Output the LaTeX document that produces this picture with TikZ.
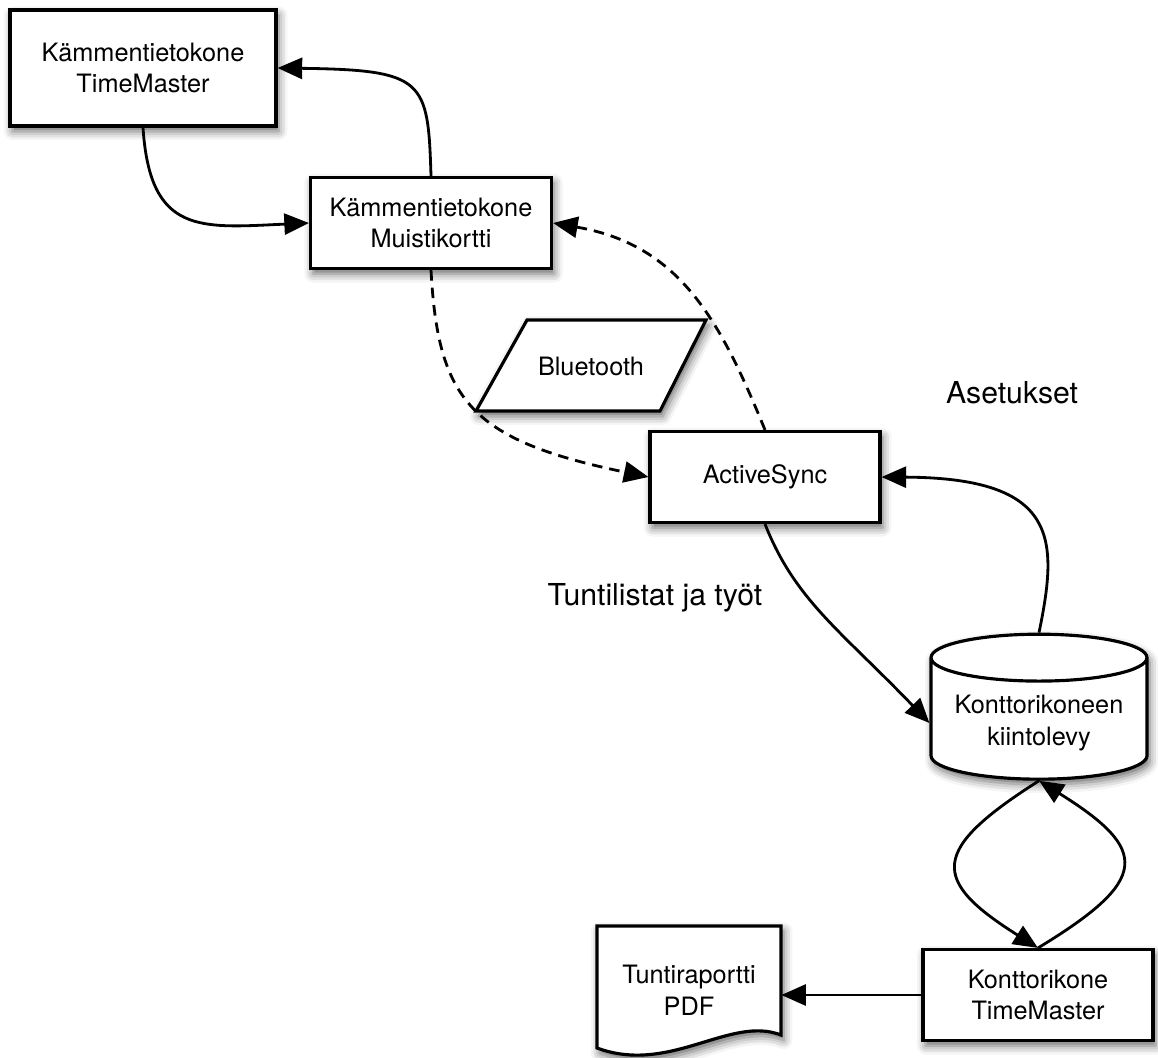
\documentclass[tikz,border=0pt]{standalone}
\usepackage{fontspec}
\setmainfont{TeX Gyre Heros}
\usetikzlibrary{arrows.meta,shapes.geometric,shadows.blur}

\begin{document}
\begin{tikzpicture}[x=0.02cm, y=-0.02cm,
    shade/.style={blur shadow={shadow xshift=1.5pt, shadow yshift=-3pt, shadow blur radius=5pt, shadow opacity=60}},
    box/.style={draw, line width=1.8pt, fill=white, shade, align=center, font=\fontsize{14.4}{18.1}\selectfont},
    flow/.style={line width=1.6pt, -{Triangle[length=14pt,width=12pt,fill=black,sharp]}},
    sync/.style={flow, dash pattern=on 6pt off 4pt},
    note/.style={font=\fontsize{17.2}{20}\selectfont}]

      \useasboundingbox (0,0) rectangle (1158,1057);

      % Handheld side
      \node[box, minimum width=5.32cm, minimum height=2.32cm] (tm1) at (143,68) {Kämmentietokone\\TimeMaster};
      \node[box, minimum width=4.82cm, minimum height=1.82cm] (mk) at (431,223) {Kämmentietokone\\Muistikortti};
      \draw[line width=1.8pt, fill=white, shade] (527,320) -- (706,320) -- (660,411) -- (476,411) -- cycle;
      \node[font=\fontsize{14.4}{18.1}\selectfont] (bt) at (591,366) {Bluetooth};

      % Office side
      \node[box, minimum width=4.6cm, minimum height=1.82cm] (as) at (765,477) {ActiveSync};
      \node[box, cylinder, shape border rotate=90, aspect=0.26,
            minimum width=4.32cm, minimum height=2.9cm] (hd) at (1039,723) {Konttorikoneen\\kiintolevy};
      \node[box, minimum width=4.6cm, minimum height=1.82cm] (tm2) at (1038,995) {Konttorikone\\TimeMaster};

      % Report document
      \draw[line width=1.8pt, fill=white, shade] (597,926) -- (781,926) -- (781,1035)
            .. controls (730,1015) and (670,1075) .. (597,1048) -- cycle;
      \node[align=center, font=\fontsize{14.4}{18.1}\selectfont, minimum width=3.68cm] (pdf) at (689,990) {Tuntiraportti\\PDF};

      % Labels
      \node[note] (aset) at (1012,393) {Asetukset};
      \node[note] (tunt) at (655,598) {Tuntilistat ja työt};

      % Handheld arrows
      \draw[flow] (tm1.south) .. controls (150,235) and (200,228) .. (mk.west);
      \draw[flow] (mk.north) .. controls (428,80) and (425,70) .. (tm1.east);

      % Sync (dashed)
      \draw[sync] (mk.south) .. controls (438,400) and (470,440) .. (as.west);
      \draw[sync] (as.north) .. controls (720,320) and (680,245) .. (mk.east);

      % Office arrows
      \draw[flow] (as.south) .. controls (795,600) and (840,630) .. (hd.west);
      \draw[flow] (hd.north) .. controls (1058,540) and (1060,478) .. (as.east);
      \draw[flow] (hd.south) .. controls (930,850) and (930,880) .. (tm2.north);
      \draw[flow] (tm2.north) .. controls (1150,880) and (1150,850) .. (hd.south);
      \draw[flow] (tm2.west) -- (pdf.east |- tm2.west);
    \end{tikzpicture}
\end{document}
